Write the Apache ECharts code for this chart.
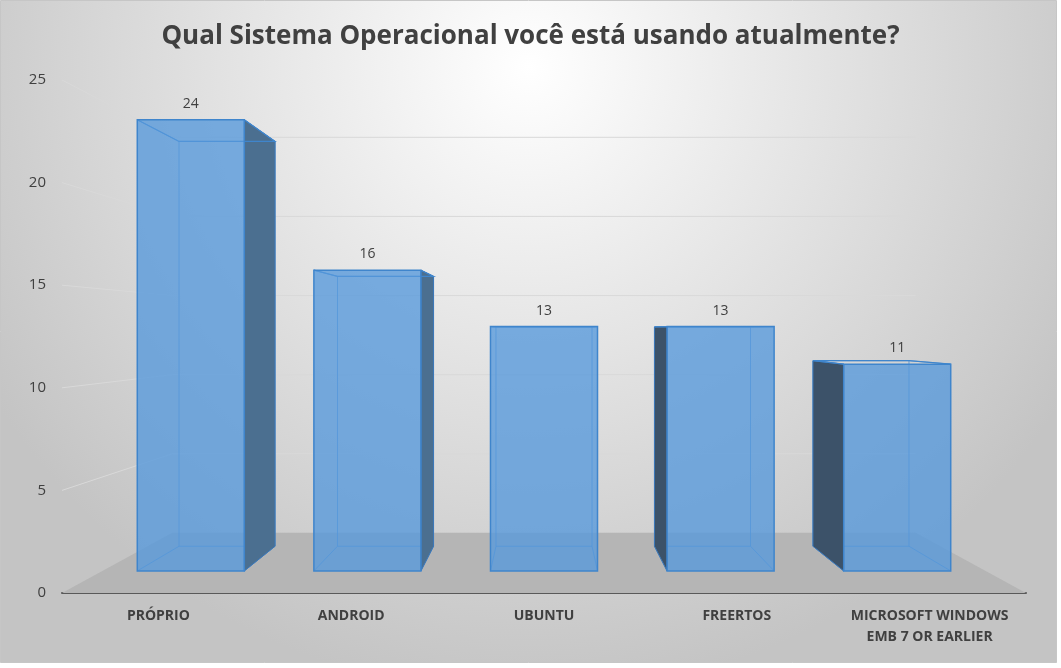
<!DOCTYPE html>
<html>
<head>
<meta charset="utf-8">
<title>Sistema Operacional</title>
<script src="https://cdn.jsdelivr.net/npm/echarts@6/dist/echarts.min.js"></script>
<style>
    html, body { margin: 0; padding: 0; background: #fff; }
    #chart { width: 1061px; height: 668px; }
</style>
</head>
<body>
<div id="chart"></div>
<script>
'use strict';

// data
const categories = ['PRÓPRIO', 'ANDROID', 'UBUNTU', 'FREERTOS', 'MICROSOFT WINDOWS\nEMB 7 OR EARLIER'];
const values = [24, 16, 13, 13, 11];
const yTicks = [5, 10, 15, 20, 25];

// fake 3d: everything is scaled toward the eye point
const EYE_CAT = 2, EYE_VAL = 12.8;
const FRONT = 0.916, BACK = 0.822, WALL = 0.771;
const BAR_HALF = 0.303;
const FONT = '"Open Sans", "DejaVu Sans", sans-serif';
const BAR_FILL = 'rgba(86,153,219,0.78)';

const proj = (p, s, c) => [c[0] + s * (p[0] - c[0]), c[1] + s * (p[1] - c[1])];

function renderFloor(params, api) {
    let cs = params.coordSys,
        c = api.coord([EYE_CAT, EYE_VAL]),
        y0 = api.coord([0, 0])[1],
        x0 = cs.x,
        x1 = cs.x + cs.width,
        kids = [];
    let bl = proj([x0, y0], WALL, c),
        br = proj([x1, y0], WALL, c);
    kids.push({
        type: 'polygon',
        shape: { points: [[x0, y0], [x1, y0], br, bl] },
        style: { fill: '#b5b5b5' }
    });
    // wall gridlines: side wall then back wall
    for (let i = 0; i < yTicks.length; i++) {
        let y = api.coord([0, yTicks[i]])[1];
        let a = [x0, y],
            b = proj(a, WALL, c),
            d = proj([x1, y], WALL, c);
        kids.push({
            type: 'polyline',
            shape: { points: [a, b, d] },
            style: { stroke: '#d9d9d9', lineWidth: 1, fill: null }
        });
    }
    return { type: 'group', children: kids };
}

function renderBar(params, api) {
    let i = api.value(0),
        v = api.value(1),
        c = api.coord([EYE_CAT, EYE_VAL]),
        top = api.coord([i, v]),
        base = api.coord([i, 0]),
        hw = api.size([1, 0])[0] * BAR_HALF,
        xl = top[0] - hw,
        xr = top[0] + hw;
    let f = (x, y) => proj([x, y], FRONT, c),
        b = (x, y) => proj([x, y], BACK, c);
    let ftl = f(xl, top[1]), ftr = f(xr, top[1]), fbr = f(xr, base[1]), fbl = f(xl, base[1]);
    let btl = b(xl, top[1]), btr = b(xr, top[1]), bbr = b(xr, base[1]), bbl = b(xl, base[1]);
    let kids = [];
    let inner = { stroke: 'rgba(70,140,215,0.75)', lineWidth: 1, fill: null };

    // hidden edges, seen through the front
    kids.push({ type: 'polygon', shape: { points: [btl, btr, bbr, bbl] }, style: inner });
    [[ftl, btl], [ftr, btr], [fbr, bbr], [fbl, bbl]].forEach(function (e) {
        kids.push({ type: 'line', shape: { x1: e[0][0], y1: e[0][1], x2: e[1][0], y2: e[1][1] }, style: inner });
    });
    // side faces
    if (btr[0] > ftr[0]) {
        kids.push({
            type: 'polygon',
            shape: { points: [ftr, btr, bbr, fbr] },
            style: { fill: '#4b6f90', stroke: '#3c78b8', lineWidth: 1 }
        });
    }
    if (btl[0] < ftl[0]) {
        kids.push({
            type: 'polygon',
            shape: { points: [ftl, btl, bbl, fbl] },
            style: { fill: '#3c5269', stroke: '#3c78b8', lineWidth: 1 }
        });
    }
    // top edge of the lid
    kids.push({
        type: 'polyline',
        shape: { points: [ftl, btl, btr, ftr] },
        style: { stroke: '#3f85cc', lineWidth: 1.2, fill: null }
    });
    // front face
    kids.push({
        type: 'polygon',
        shape: { points: [ftl, ftr, fbr, fbl] },
        style: { fill: BAR_FILL, stroke: '#3f85cc', lineWidth: 1.5 }
    });
    kids.push({
        type: 'text',
        style: {
            text: String(v),
            x: (ftl[0] + ftr[0]) / 2,
            y: ftl[1] - 16,
            align: 'center',
            verticalAlign: 'middle',
            fill: '#404040',
            font: '14px ' + FONT
        }
    });
    return { type: 'group', children: kids };
}

const chart = echarts.init(document.getElementById('chart'));

chart.setOption({
    animation: false,
    graphic: [{
        type: 'rect',
        z: -10,
        silent: true,
        shape: { x: 0.5, y: 0.5, width: 1056, height: 662 },
        style: {
            fill: new echarts.graphic.RadialGradient(0.5, 0.1, 0.95, [
                { offset: 0, color: '#ffffff' },
                { offset: 1, color: '#c4c4c4' }
            ]),
            stroke: '#c6c6c6',
            lineWidth: 1
        }
    }],
    title: {
        text: 'Qual Sistema Operacional você está usando atualmente?',
        left: 'center',
        top: 19,
        textStyle: { fontFamily: FONT, fontSize: 26, fontWeight: 'bold', color: '#404040' }
    },
    grid: { left: 62, right: 35, top: 80, bottom: 75 },
    xAxis: {
        type: 'category',
        data: categories,
        axisLine: { lineStyle: { color: '#595959', width: 2 } },
        axisTick: { show: false },
        axisLabel: {
            margin: 13,
            interval: 0,
            color: '#404040',
            fontFamily: FONT,
            fontSize: 14,
            fontWeight: 'bold',
            lineHeight: 21
        }
    },
    yAxis: {
        type: 'value',
        min: 0,
        max: 25,
        interval: 5,
        axisLine: { show: false },
        axisTick: { show: false },
        splitLine: { show: false },
        axisLabel: { margin: 16, color: '#404040', fontFamily: FONT, fontSize: 15 }
    },
    series: [{
        type: 'custom',
        z: 1,
        silent: true,
        renderItem: renderFloor,
        data: [[0, 0]]
    }, {
        type: 'custom',
        z: 3,
        renderItem: renderBar,
        data: values.map((v, i) => [i, v])
    }]
});
</script>
</body>
</html>
